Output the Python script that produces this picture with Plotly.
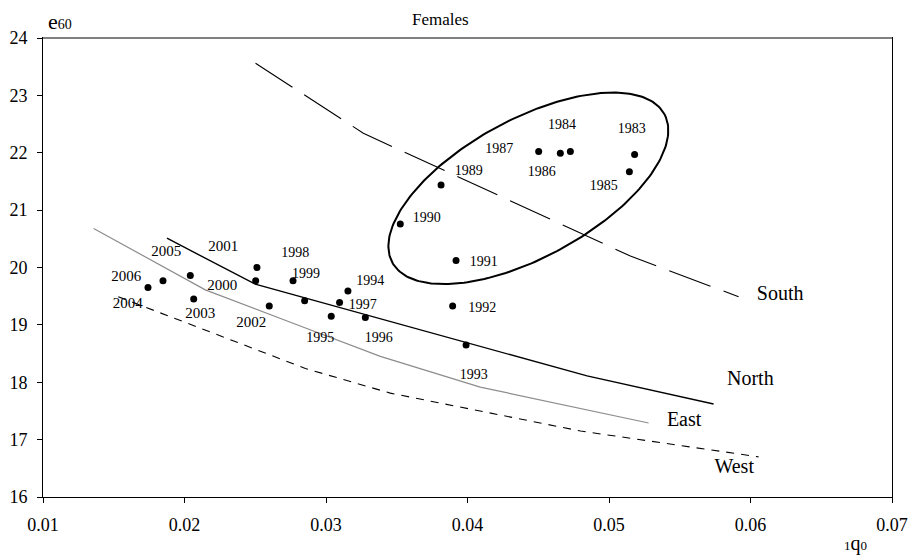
import numpy as np
import plotly.graph_objects as go

# ---- data ----
# observed points (1q0, e60)
pt_q = [0.01742, 0.01848, 0.02041, 0.02065, 0.02512, 0.02503, 0.02599, 0.02767,
        0.02849, 0.03037, 0.03096, 0.03155, 0.03278, 0.03895, 0.03990, 0.03525,
        0.03813, 0.03919, 0.04503, 0.04656, 0.04727, 0.05181, 0.05144]
pt_e = [19.65, 19.77, 19.86, 19.45, 20.00, 19.77, 19.33, 19.77,
        19.42, 19.15, 19.39, 19.59, 19.13, 19.33, 18.65, 20.76,
        21.44, 20.12, 22.02, 21.99, 22.02, 21.97, 21.67]

# year labels and their positions
yr_text = ["1983", "1984", "1985", "1986", "1987", "1989", "1990", "1991", "1992", "1993",
           "1994", "1995", "1996", "1997", "1998", "1999", "2000", "2001", "2002", "2003",
           "2004", "2005", "2006"]
yr_q = [0.05161, 0.04667, 0.04963, 0.04525, 0.04225, 0.04009, 0.03712, 0.04115, 0.04105, 0.04045,
        0.03313, 0.02960, 0.03373, 0.03260, 0.02783, 0.02859, 0.02267, 0.02274, 0.02472, 0.02112,
        0.01599, 0.01871, 0.01589]
yr_e = [22.41, 22.48, 21.42, 21.65, 22.06, 21.68, 20.86, 20.09, 19.28, 18.11,
        19.75, 18.76, 18.76, 19.33, 20.25, 19.88, 19.67, 20.36, 19.03, 19.19,
        19.36, 20.26, 19.83]

# model lines
south_q = [0.02502, 0.03264, 0.05151, 0.05916]
south_e = [23.56, 22.34, 20.20, 19.49]
north_q = [0.01876, 0.02500, 0.04845, 0.05739]
north_e = [20.51, 19.71, 18.11, 17.62]
east_q = [0.01358, 0.02147, 0.02818, 0.03384, 0.04090, 0.05280]
east_e = [20.68, 19.61, 18.98, 18.45, 17.915, 17.29]
west_q = [0.01532, 0.02854, 0.03455, 0.04799, 0.06057]
west_e = [19.49, 18.24, 17.81, 17.15, 16.70]

series_names = ["South", "North", "East", "West"]
series_lab_q = [0.0621, 0.05999, 0.05531, 0.05885]
series_lab_e = [19.52, 18.04, 17.32, 16.51]

# ellipse around the 1980s cluster: centre and half-axis vectors
ell_c = (0.0443, 21.38)
ell_u = (0.00961, 1.295)
ell_v = (-0.00234, 1.053)

x_ticks = [0.01, 0.02, 0.03, 0.04, 0.05, 0.06, 0.07]
y_ticks = [16, 17, 18, 19, 20, 21, 22, 23, 24]

FONT = "Liberation Serif"

fig = go.Figure()

fig.add_trace(go.Scatter(x=south_q, y=south_e, mode="lines",
                         line=dict(color="black", width=1.1, dash="44px,14px"), hoverinfo="skip"))
fig.add_trace(go.Scatter(x=north_q, y=north_e, mode="lines",
                         line=dict(color="black", width=1.4), hoverinfo="skip"))
fig.add_trace(go.Scatter(x=east_q, y=east_e, mode="lines",
                         line=dict(color="#8c8c8c", width=1.2), hoverinfo="skip"))
fig.add_trace(go.Scatter(x=west_q, y=west_e, mode="lines",
                         line=dict(color="black", width=1.1, dash="8px,7px"), hoverinfo="skip"))

t = np.linspace(0, 2 * np.pi, 240)
ex = ell_c[0] + ell_u[0] * np.cos(t) + ell_v[0] * np.sin(t)
ey = ell_c[1] + ell_u[1] * np.cos(t) + ell_v[1] * np.sin(t)
fig.add_trace(go.Scatter(x=ex, y=ey, mode="lines",
                         line=dict(color="black", width=2), hoverinfo="skip"))

fig.add_trace(go.Scatter(x=pt_q, y=pt_e, mode="markers",
                         marker=dict(color="black", size=7), hoverinfo="skip"))

yr_sizes = [14 if s.startswith("19") else 15 for s in yr_text]
fig.add_trace(go.Scatter(x=yr_q, y=yr_e, mode="text", text=yr_text,
                         textfont=dict(family=FONT, size=yr_sizes, color="black"),
                         hoverinfo="skip"))
fig.add_trace(go.Scatter(x=series_lab_q, y=series_lab_e, mode="text", text=series_names,
                         textfont=dict(family=FONT, size=20, color="black"),
                         hoverinfo="skip"))

fig.update_layout(
    width=909, height=547,
    margin=dict(l=35, r=25, t=30, b=58),
    paper_bgcolor="white", plot_bgcolor="white",
    showlegend=False,
    font=dict(family=FONT, size=18, color="black"),
    xaxis=dict(range=[0.01, 0.07], tickvals=x_ticks, ticktext=[f"{v:.2f}" for v in x_ticks],
               showgrid=False, zeroline=False, showline=True, linecolor="black", linewidth=1,
               mirror=True, ticks="outside", ticklen=5, tickcolor="black", automargin=False,
               tickfont=dict(family=FONT, size=18), ticklabelstandoff=6),
    yaxis=dict(range=[16, 24], tickvals=y_ticks, automargin=False,
               showgrid=False, zeroline=False, showline=True, linecolor="black", linewidth=1,
               mirror=True, ticks="outside", ticklen=5, tickcolor="black",
               tickfont=dict(family=FONT, size=18), ticklabelstandoff=6),
    shapes=[dict(type="line", xref="paper", yref="paper", x0=0, x1=1, y0=1, y1=1,
                 line=dict(color="#808080", width=2))],
    annotations=[
        dict(text="Females", xref="paper", yref="paper", x=(440 - 43) / 849, y=1,
             yshift=19, yanchor="middle", xanchor="center", showarrow=False,
             font=dict(family=FONT, size=17)),
        dict(text="e<span style='font-size:14px'>60</span>", xref="paper", yref="paper",
             x=(60 - 43) / 849, y=1, yshift=17, yanchor="middle", xanchor="center",
             showarrow=False, font=dict(family=FONT, size=22)),
        dict(text="<span style='font-size:13px'>1</span>q<span style='font-size:13px'>0</span>",
             xref="paper", yref="paper", x=(855 - 43) / 849, y=0, yshift=-46,
             yanchor="middle", xanchor="center",
             showarrow=False, font=dict(family=FONT, size=20)),
    ],
)

fig.write_html("out.html")
